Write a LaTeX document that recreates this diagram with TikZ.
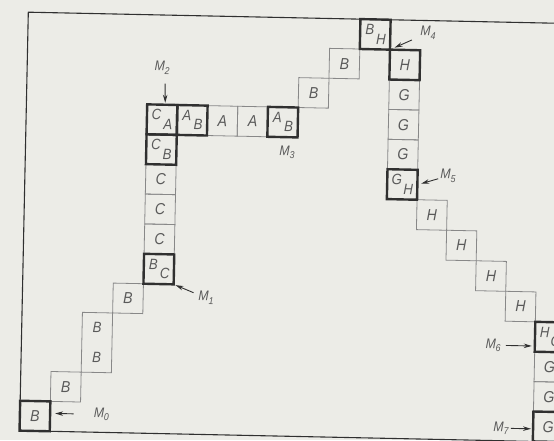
\documentclass[tikz,border=0pt]{standalone}
\usepackage{fontspec}
\newfontfamily\drft[FakeStretch=0.88]{Liberation Sans}
\usetikzlibrary{arrows.meta,calc}
\definecolor{paper}{HTML}{ECECE7}
\definecolor{ink}{HTML}{303030}
\definecolor{thinline}{HTML}{888888}
\definecolor{txt}{HTML}{5A5A5A}
\tikzset{
  cellbox/.style={draw=thinline, line width=0.8pt, minimum width=30.2pt, minimum height=29.9pt,
    inner sep=0pt, outer sep=0pt, text=txt, font=\drft\itshape\fontsize{16}{16}\selectfont},
  markbox/.style={cellbox, draw=ink, line width=2.4pt},
  lt/.style={inner sep=0pt, text=txt, font=\drft\itshape\fontsize{15}{15}\selectfont},
  pair/.style 2 args={label={[lt, xshift=-5.5pt, yshift=5pt]center:#1},
                      label={[lt, xshift=6pt, yshift=-4.5pt]center:#2}},
  twob/.style={label={[lt, yshift=14.95pt]center:B}, label={[lt, yshift=-14.95pt]center:B}},
  mlab/.style={inner sep=1pt, text=txt, font=\drft\itshape\fontsize{14}{14}\selectfont},
  marr/.style={draw=ink, line width=0.9pt, -{Stealth[length=8pt,width=4.5pt]}},
  framel/.style={draw=ink, line width=1.1pt}
}
\newcommand{\mlbl}[1]{M\raisebox{-0.45ex}{\fontsize{10}{10}\selectfont #1}}
\begin{document}
\begin{tikzpicture}
\fill[paper] (0pt,0pt) rectangle (554pt,440pt);
\clip (0pt,0pt) rectangle (554pt,440pt);
\begin{scope}[rotate around={-1.2:(277pt,220pt)}]
\begin{scope}[shift={(24pt,4pt)}, x=30.2pt, y=29.9pt, transform shape]
  % plain cells
  \node[cellbox] (c1-1) at (1.5,1.5) {B};
  \node[cellbox, minimum height=59.8pt, twob] (c2-2) at (2.5,3) {};
  \node[cellbox] (c3-4) at (3.5,4.5) {B};
  \node[cellbox] (c4-6) at (4.5,6.5) {C};
  \node[cellbox] (c4-7) at (4.5,7.5) {C};
  \node[cellbox] (c4-8) at (4.5,8.5) {C};
  \node[cellbox] (c6-10) at (6.5,10.5) {A};
  \node[cellbox] (c7-10) at (7.5,10.5) {A};
  \node[cellbox] (c9-11) at (9.5,11.5) {B};
  \node[cellbox] (c10-12) at (10.5,12.5) {B};
  \node[cellbox] (c12-11) at (12.5,11.5) {G};
  \node[cellbox] (c12-10) at (12.5,10.5) {G};
  \node[cellbox] (c12-9) at (12.5,9.5) {G};
  \node[cellbox] (c13-7) at (13.5,7.5) {H};
  \node[cellbox] (c14-6) at (14.5,6.5) {H};
  \node[cellbox] (c15-5) at (15.5,5.5) {H};
  \node[cellbox] (c16-4) at (16.5,4.5) {H};
  \node[cellbox] (c17-2) at (17.5,2.5) {G};
  \node[cellbox] (c17-1) at (17.5,1.5) {G};
  % marked cells
  \node[markbox] (c0-0) at (0.5,0.5) {B};
  \node[markbox, pair={B}{C}] (c4-5) at (4.5,5.5) {};
  \node[markbox, pair={C}{B}] (c4-9) at (4.5,9.5) {};
  \node[markbox, pair={C}{A}] (c4-10) at (4.5,10.5) {};
  \node[markbox, pair={A}{B}] (c5-10) at (5.5,10.5) {};
  \node[markbox, pair={A}{B}] (c8-10) at (8.5,10.5) {};
  \node[markbox, pair={B}{H}] (c11-13) at (11.5,13.5) {};
  \node[markbox] (c12-12) at (12.5,12.5) {H};
  \node[markbox, pair={G}{H}] (c12-8) at (12.5,8.5) {};
  \node[markbox, pair={H}{G}] (c17-3) at (17.5,3.5) {};
  \node[markbox] (c17-0) at (17.5,0.5) {G};
  % frame
  \coordinate (ftl) at (0,14);
  \coordinate (ftr) at (19,14);
  \draw[framel] (ftr) -- (ftl) -- (c0-0.north west);
  \draw[framel] (c0-0.south east) -- (c17-0.south west);
  % labels
  \node[mlab] (m0) at (2.7,0.6) {\mlbl{0}};
  \node[mlab] (m1) at (6.08,4.57) {\mlbl{1}};
  \node[mlab] (m2) at (4.47,12.23) {\mlbl{2}};
  \node[mlab] (m3) at (8.66,9.5) {\mlbl{3}};
  \node[mlab] (m4) at (13.25,13.59) {\mlbl{4}};
  \node[mlab] (m5) at (14.01,8.82) {\mlbl{5}};
  \node[mlab] (m6) at (15.62,3.19) {\mlbl{6}};
  \node[mlab] (m7) at (15.94,0.42) {\mlbl{7}};
  % arrows
  \draw[marr, shorten <=19pt, shorten >=5pt] (m0) -- (m0 -| c0-0.east);
  \draw[marr, shorten <=4pt, shorten >=2pt] (m1) -- (c4-5.south east);
  \draw[marr, shorten <=8pt, shorten >=2pt] ([xshift=3pt]m2.south) -- ([xshift=3pt]c4-10.north);
  \draw[marr, shorten <=8pt, shorten >=5pt] (m4) -- (c12-12.north west);
  \draw[marr, shorten <=1pt, shorten >=4pt] (m5) -- (c12-8.east);
  \draw[marr, shorten <=4pt, shorten >=3pt] (m6) -- (m6 -| c17-3.west);
  \draw[marr, shorten <=1pt, shorten >=2pt] (m7) -- (m7 -| c17-0.west);
\end{scope}
\end{scope}
\end{tikzpicture}
\end{document}
